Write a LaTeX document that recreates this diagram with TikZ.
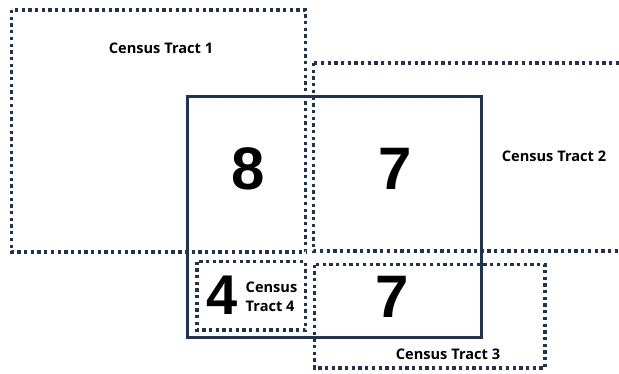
\documentclass[tikz,border=0pt]{standalone}
\usepackage{fontspec}
\setmainfont{Open Sans}
\newfontfamily\numfont{Liberation Sans}
\definecolor{navy}{HTML}{1F3358}
\begin{document}
\begin{tikzpicture}[x=1pt,y=-1pt,
  tract/.style={draw=navy,line width=3.2pt,dash pattern=on 3.3pt off 3.4pt},
  block/.style={draw=navy,line width=3pt},
  lbl/.style={font=\fontsize{14.6}{18.5}\selectfont\bfseries,text=black,inner sep=0pt,align=left},
  big/.style={font=\numfont\fontsize{60}{60}\selectfont\bfseries,text=black,inner sep=0pt}]
\useasboundingbox (0,0) rectangle (619,373);
\begin{scope}
\clip (0,0) rectangle (619,373);
\draw[tract] (11.5,10) rectangle (305.5,252);
\draw[tract] (313.5,63) rectangle (640,251);
\end{scope}
\draw[block] (187.5,96) rectangle (481,337.5);
\draw[tract] (197,261.5) rectangle (305.5,330);
\draw[tract] (314.5,264.5) rectangle (545,368);
\node[lbl] (t1) at (161,48) {Census Tract 1};
\node[lbl] (t2) at (554,156) {Census Tract 2};
\node[lbl] (t3) at (448,354) {Census Tract 3};
\node[lbl,anchor=west] (t4) at (245.5,297) {Census\\Tract 4};
\node[big] (n8) at (248,168.5) {8};
\node[big] (n7a) at (395,168.5) {7};
\node[big,font=\numfont\fontsize{56}{56}\selectfont\bfseries] (n4) at (222.5,295) {4};
\node[big] (n7b) at (392,296.5) {7};
\end{tikzpicture}
\end{document}
